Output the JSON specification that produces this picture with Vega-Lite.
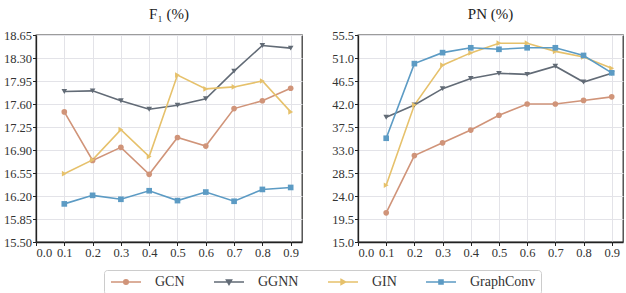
{
  "$schema": "https://vega.github.io/schema/vega-lite/v6.json",
  "padding": {"left": 2, "top": 6, "right": 0, "bottom": 0},
  "background": "white",
  "datasets": {
    "f1": [
      {"t": 0.1, "model": "GCN", "v": 17.48}, {"t": 0.2, "model": "GCN", "v": 16.74}, {"t": 0.3, "model": "GCN", "v": 16.94},
      {"t": 0.4, "model": "GCN", "v": 16.53}, {"t": 0.5, "model": "GCN", "v": 17.09}, {"t": 0.6, "model": "GCN", "v": 16.96},
      {"t": 0.7, "model": "GCN", "v": 17.53}, {"t": 0.8, "model": "GCN", "v": 17.65}, {"t": 0.9, "model": "GCN", "v": 17.84},
      {"t": 0.1, "model": "GGNN", "v": 17.79}, {"t": 0.2, "model": "GGNN", "v": 17.80}, {"t": 0.3, "model": "GGNN", "v": 17.65},
      {"t": 0.4, "model": "GGNN", "v": 17.52}, {"t": 0.5, "model": "GGNN", "v": 17.58}, {"t": 0.6, "model": "GGNN", "v": 17.68},
      {"t": 0.7, "model": "GGNN", "v": 18.10}, {"t": 0.8, "model": "GGNN", "v": 18.49}, {"t": 0.9, "model": "GGNN", "v": 18.45},
      {"t": 0.1, "model": "GIN", "v": 16.54}, {"t": 0.2, "model": "GIN", "v": 16.75}, {"t": 0.3, "model": "GIN", "v": 17.21},
      {"t": 0.4, "model": "GIN", "v": 16.80}, {"t": 0.5, "model": "GIN", "v": 18.04}, {"t": 0.6, "model": "GIN", "v": 17.83},
      {"t": 0.7, "model": "GIN", "v": 17.86}, {"t": 0.8, "model": "GIN", "v": 17.95}, {"t": 0.9, "model": "GIN", "v": 17.48},
      {"t": 0.1, "model": "GraphConv", "v": 16.08}, {"t": 0.2, "model": "GraphConv", "v": 16.21}, {"t": 0.3, "model": "GraphConv", "v": 16.15},
      {"t": 0.4, "model": "GraphConv", "v": 16.28}, {"t": 0.5, "model": "GraphConv", "v": 16.13}, {"t": 0.6, "model": "GraphConv", "v": 16.26},
      {"t": 0.7, "model": "GraphConv", "v": 16.12}, {"t": 0.8, "model": "GraphConv", "v": 16.30}, {"t": 0.9, "model": "GraphConv", "v": 16.33}
    ],
    "pn": [
      {"t": 0.1, "model": "GCN", "v": 20.7}, {"t": 0.2, "model": "GCN", "v": 31.9}, {"t": 0.3, "model": "GCN", "v": 34.4},
      {"t": 0.4, "model": "GCN", "v": 36.9}, {"t": 0.5, "model": "GCN", "v": 39.8}, {"t": 0.6, "model": "GCN", "v": 42.0},
      {"t": 0.7, "model": "GCN", "v": 42.0}, {"t": 0.8, "model": "GCN", "v": 42.7}, {"t": 0.9, "model": "GCN", "v": 43.4},
      {"t": 0.1, "model": "GGNN", "v": 39.4}, {"t": 0.2, "model": "GGNN", "v": 41.8}, {"t": 0.3, "model": "GGNN", "v": 45.0},
      {"t": 0.4, "model": "GGNN", "v": 47.0}, {"t": 0.5, "model": "GGNN", "v": 48.0}, {"t": 0.6, "model": "GGNN", "v": 47.8},
      {"t": 0.7, "model": "GGNN", "v": 49.4}, {"t": 0.8, "model": "GGNN", "v": 46.3}, {"t": 0.9, "model": "GGNN", "v": 48.0},
      {"t": 0.1, "model": "GIN", "v": 26.1}, {"t": 0.2, "model": "GIN", "v": 41.8}, {"t": 0.3, "model": "GIN", "v": 49.6},
      {"t": 0.4, "model": "GIN", "v": 52.0}, {"t": 0.5, "model": "GIN", "v": 53.9}, {"t": 0.6, "model": "GIN", "v": 53.9},
      {"t": 0.7, "model": "GIN", "v": 52.3}, {"t": 0.8, "model": "GIN", "v": 51.2}, {"t": 0.9, "model": "GIN", "v": 49.0},
      {"t": 0.1, "model": "GraphConv", "v": 35.3}, {"t": 0.2, "model": "GraphConv", "v": 49.9}, {"t": 0.3, "model": "GraphConv", "v": 52.05},
      {"t": 0.4, "model": "GraphConv", "v": 53.0}, {"t": 0.5, "model": "GraphConv", "v": 52.7}, {"t": 0.6, "model": "GraphConv", "v": 53.0},
      {"t": 0.7, "model": "GraphConv", "v": 53.0}, {"t": 0.8, "model": "GraphConv", "v": 51.5}, {"t": 0.9, "model": "GraphConv", "v": 48.1}
    ]
  },
  "spacing": 27,
  "hconcat": [
    {
      "width": 266, "height": 207,
      "title": {"text": "F₁ (%)"},
      "data": {"name": "f1"},
      "encoding": {
        "x": {"field": "t", "type": "quantitative", "scale": {"domain": [0, 0.94], "nice": false, "zero": false},
              "axis": {"values": [0, 0.1, 0.2, 0.3, 0.4, 0.5, 0.6, 0.7, 0.8, 0.9], "format": ".1f", "title": null}},
        "y": {"field": "v", "type": "quantitative", "scale": {"domain": [15.5, 18.65], "nice": false, "zero": false},
              "axis": {"values": [15.5, 15.85, 16.2, 16.55, 16.9, 17.25, 17.6, 17.95, 18.3, 18.65], "format": ".2f", "title": null}},
        "color": {"field": "model", "type": "nominal",
                  "legend": {"encode": {"symbols": {"update": {
                    "shape": {"signal": "datum.value === 'GCN' ? 'M-3,0H3M-0.45,0A0.45,0.45,0,1,1,0.45,0A0.45,0.45,0,1,1,-0.45,0' : datum.value === 'GGNN' ? 'M-3,0H3M-0.5,-0.38L0.5,-0.38L0,0.5Z' : datum.value === 'GIN' ? 'M-3,0H3M-0.38,-0.5L0.5,0L-0.38,0.5Z' : 'M-3,0H3M-0.4,-0.4H0.4V0.4H-0.4Z'"},
                    "fill": {"scale": "color", "field": "value"},
                    "stroke": {"scale": "color", "field": "value"},
                    "strokeWidth": {"value": 1.6},
                    "opacity": {"value": 1}
                  }}}}}
      },
      "layer": [
        {"mark": {"type": "line", "strokeWidth": 1.6}},
        {"mark": {"type": "point", "filled": true, "size": 32, "opacity": 1},
         "encoding": {"shape": {"field": "model", "type": "nominal", "legend": null}}}
      ]
    },
    {
      "width": 265, "height": 207,
      "title": {"text": "PN (%)"},
      "data": {"name": "pn"},
      "encoding": {
        "x": {"field": "t", "type": "quantitative", "scale": {"domain": [0, 0.94], "nice": false, "zero": false},
              "axis": {"values": [0, 0.1, 0.2, 0.3, 0.4, 0.5, 0.6, 0.7, 0.8, 0.9], "format": ".1f", "title": null}},
        "y": {"field": "v", "type": "quantitative", "scale": {"domain": [15, 55.5], "nice": false, "zero": false},
              "axis": {"values": [15, 19.5, 24, 28.5, 33, 37.5, 42, 46.5, 51, 55.5], "format": ".1f", "title": null}},
        "color": {"field": "model", "type": "nominal"}
      },
      "layer": [
        {"mark": {"type": "line", "strokeWidth": 1.6}},
        {"mark": {"type": "point", "filled": true, "size": 32, "opacity": 1},
         "encoding": {"shape": {"field": "model", "type": "nominal", "legend": null}}}
      ]
    }
  ],
  "resolve": {"scale": {"y": "independent"}},
  "config": {
    "font": "Liberation Serif",
    "view": {"stroke": "#3a3a3a", "strokeWidth": 1.3},
    "title": {"fontSize": 15, "fontWeight": "normal", "color": "#222", "offset": 7},
    "axis": {
      "labelFont": "Liberation Serif", "labelFontSize": 12.5, "labelColor": "#333",
      "gridColor": "#e3e3e8", "gridWidth": 1, "domainColor": "#222", "domainWidth": 1.3,
      "tickColor": "#222", "tickSize": 3.5, "labelPadding": 1
    },
    "range": {
      "category": ["#d09479", "#626b76", "#e6c16b", "#5c9bc4"],
      "symbol": ["circle", "triangle-down", "triangle-right", "square"]
    },
    "legend": {
      "orient": "none", "legendX": 68, "legendY": 235, "direction": "horizontal", "columns": 4,
      "title": null, "labelFont": "Liberation Serif", "labelFontSize": 14, "labelColor": "#333",
      "symbolSize": 100, "symbolOffset": 10, "labelOffset": 22, "columnPadding": 25,
      "strokeColor": "#cccccc", "cornerRadius": 3, "padding": 5, "fillColor": "white",
      "symbolStrokeWidth": 1.6
    }
  },
  "encoding": {}
}
